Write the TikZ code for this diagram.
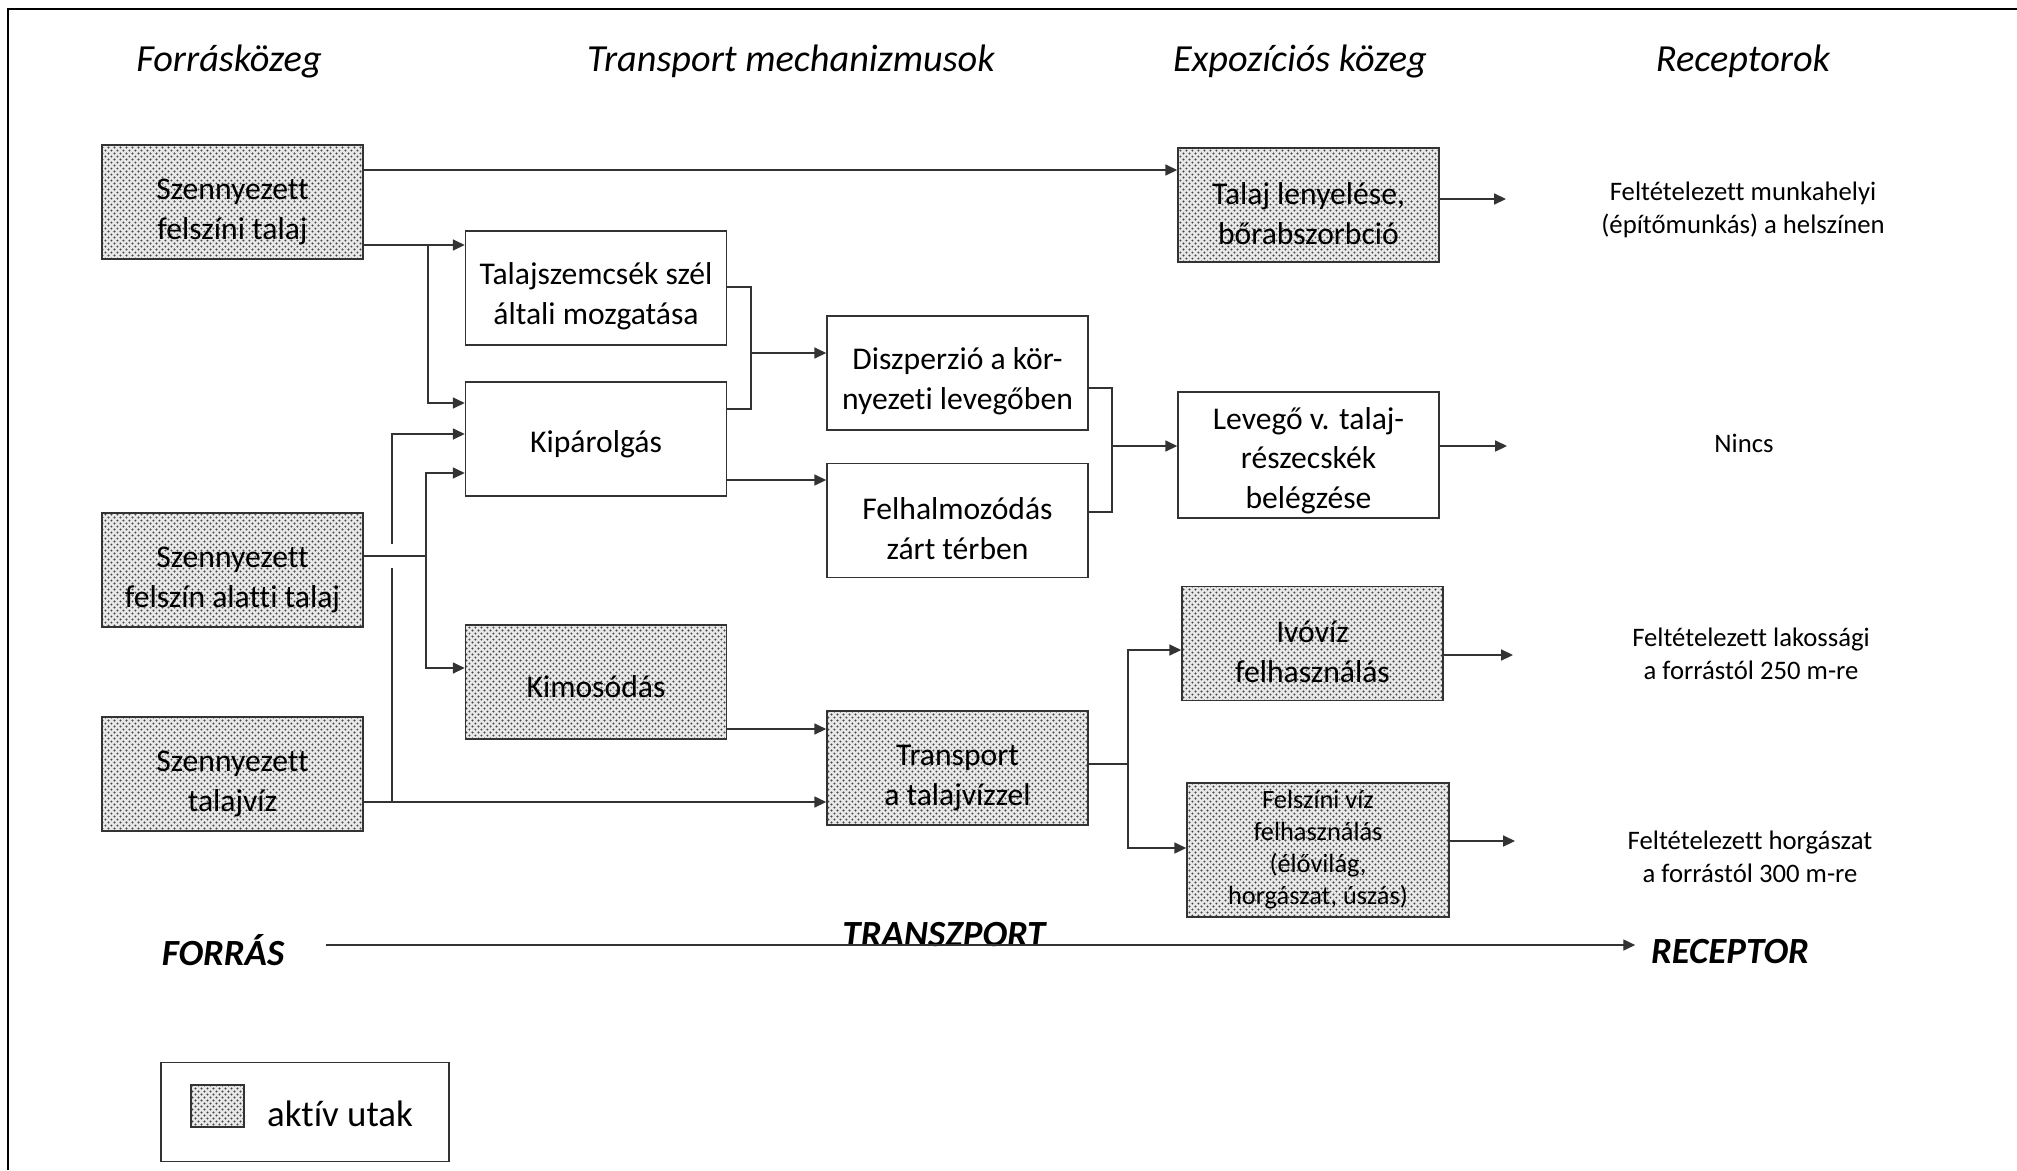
\documentclass[tikz,border=0pt]{standalone}
\usepackage{fontspec}
\setmainfont{Carlito}[Ligatures=NoCommon]
\usetikzlibrary{arrows.meta, patterns}
\definecolor{vonalszin}{HTML}{333333}
\definecolor{pontszin}{HTML}{444444}
\definecolor{alapszin}{HTML}{E8E8E8}
\pgfdeclarepatternformonly{pontok}{\pgfqpoint{0pt}{0pt}}{\pgfqpoint{3.4pt}{3.4pt}}{\pgfqpoint{3.4pt}{3.4pt}}{%
  \pgfpathcircle{\pgfqpoint{0.85pt}{0.85pt}}{0.6pt}%
  \pgfpathcircle{\pgfqpoint{2.55pt}{2.55pt}}{0.6pt}%
  \pgfusepath{fill}}
% elso sor magassaga (a szoveg lejjebb kerul)
\newcommand{\elso}[1][22pt]{\rule{0pt}{#1}}
\tikzset{
  doboz/.style={draw=vonalszin, line width=0.9pt, minimum width=5.22cm, minimum height=2.28cm,
                inner sep=2pt, align=center, font=\fontsize{18}{22.7}\selectfont},
  mintazat/.style={preaction={fill=alapszin}, pattern=pontok, pattern color=pontszin},
  aktiv/.style={doboz, mintazat},
  nyil/.style={-{Triangle[length=6.8pt,width=6.3pt]}, line width=0.8pt, vonalszin},
  vonal/.style={line width=0.8pt, vonalszin},
  fejlec/.style={font=\fontsize{21.8}{26}\selectfont\itshape},
  cimke/.style={font=\fontsize{21}{25}\selectfont\bfseries\itshape},
  receptor/.style={align=center, font=\fontsize{15.2}{19}\selectfont},
}

\begin{document}
\begin{tikzpicture}[x=0.02cm, y=-0.02cm]
  \useasboundingbox (0,0) rectangle (2017,1170);
  \draw[line width=1pt] (8,1170) -- (8,9) -- (2017,9);

  % oszlopcimek
  \node[fejlec] (h1) at (229,61) {Forrásközeg};
  \node[fejlec] (h2) at (791,61) {Transport mechanizmusok};
  \node[fejlec] (h3) at (1300,61) {Expozíciós közeg};
  \node[fejlec] (h4) at (1743,61) {Receptorok};

  % forrasok
  \node[aktiv] (A1) at (232.5,202) {\elso[23pt]Szennyezett\\felszíni talaj};
  \node[aktiv] (A2) at (232.5,570) {\elso[23pt]Szennyezett\\felszín alatti talaj};
  \node[aktiv] (A3) at (232.5,774) {\elso[23pt]Szennyezett\\talajvíz};
  % mechanizmusok
  \node[doboz] (B1) at (596,288) {\elso Talajszemcsék szél\\általi mozgatása};
  \node[doboz] (B2) at (596,439) {\elso[18pt]Kipárolgás};
  \node[aktiv] (B3) at (596,682) {\elso[18pt]Kimosódás};
  \node[doboz] (C1) at (957.5,373) {\elso Diszperzió a kör-\\nyezeti levegőben};
  \node[doboz] (C2) at (957.5,520.5) {\elso Felhalmozódás\\zárt térben};
  \node[aktiv] (C3) at (957.5,768) {\elso[23pt]Transport\\a talajvízzel};
  % expozicio
  \node[aktiv] (D1) at (1308.5,205) {\elso Talaj lenyelése,\\bőrabszorbció};
  \node[doboz, minimum height=2.48cm] (D2) at (1308.5,455) {\elso[19pt]Levegő v. talaj-\\részecskék\\belégzése};
  \node[aktiv] (D3) at (1312.5,643.5) {\elso Ivóvíz\\felhasználás};
  \node[aktiv, minimum width=5.24cm, minimum height=2.68cm, inner sep=1pt,
        font=\fontsize{15}{18.2}\selectfont] (D4) at (1318,850) {Felszíni víz\\felhasználás\\(élővilág,\\horgászat, úszás)};
  % receptorok
  \node[receptor] (R1) at (1743,210) {Feltételezett munkahelyi\\(építőmunkás) a helszínen};
  \node[receptor] (R2) at (1744,443) {Nincs};
  \node[receptor] (R3) at (1751,654) {Feltételezett lakossági\\a forrástól 250 m-re};
  \node[receptor] (R4) at (1750,857) {Feltételezett horgászat\\a forrástól 300 m-re};

  % elagazasok
  \coordinate (e1) at (400,170);
  \coordinate (s1) at (428,245);
  \coordinate (s1b) at (428,403);
  \coordinate (s2) at (426,556);
  \coordinate (s2a) at (426,473);
  \coordinate (s2b) at (426,668);
  \coordinate (s3) at (392,802);
  \coordinate (s3a) at (392,434);
  \coordinate (t1) at (780,480);
  \coordinate (t2) at (780,729);
  \coordinate (k1) at (751,287);
  \coordinate (k2) at (751,409);
  \coordinate (k) at (751,353);
  \coordinate (m1) at (1112,388);
  \coordinate (m2) at (1112,512);
  \coordinate (m) at (1112,446);
  \coordinate (v) at (1128,764);
  \coordinate (v1) at (1128,650);
  \coordinate (v2) at (1128,848);
  \coordinate (r1) at (1506,199);
  \coordinate (r2) at (1507,446);
  \coordinate (r3) at (1513,655);
  \coordinate (r4) at (1515,841);

  % nyilak
  \draw[nyil] (A1.east |- e1) -- (D1.west |- e1);
  \draw[nyil] (A1.east |- s1) -- (s1) -- (B1.west |- s1);
  \draw[nyil] (s1) -- (s1b) -- (B2.west |- s1b);
  \draw[nyil] (s3) -- (s3a) -- (B2.west |- s3a);
  \draw[white, line width=4pt] ([yshift=7]s3 |- s2) -- ([yshift=-7]s3 |- s2);
  \draw[vonal] (A2.east |- s2) -- (s2);
  \draw[nyil] (s2) -- (s2a) -- (B2.west |- s2a);
  \draw[nyil] (s2) -- (s2b) -- (B3.west |- s2b);
  \draw[nyil] (A3.east |- s3) -- (C3.west |- s3);
  \draw[nyil] (B2.east |- t1) -- (C2.west |- t1);
  \draw[nyil] (B3.east |- t2) -- (C3.west |- t2);
  \draw[vonal] (B1.east |- k1) -- (k1) -- (k2) -- (B2.east |- k2);
  \draw[nyil] (k) -- (C1.west |- k);
  \draw[vonal] (C1.east |- m1) -- (m1) -- (m2) -- (C2.east |- m2);
  \draw[nyil] (m) -- (D2.west |- m);
  \draw[vonal] (C3.east |- v) -- (v);
  \draw[nyil] (v) -- (v1) -- (D3.west |- v1);
  \draw[nyil] (v) -- (v2) -- (D4.west |- v2);
  \draw[nyil] (D1.east |- r1) -- (r1);
  \draw[nyil] (D2.east |- r2) -- (r2);
  \draw[nyil] (D3.east |- r3) -- (r3);
  \draw[nyil] (D4.east |- r4) -- (r4);

  % also tengely
  \coordinate (ax) at (900,945);
  \node[cimke] (forras) at (223,950) {FORRÁS};
  \node[cimke] (transzport) at (944,935) {TRANSZPORT};
  \node[cimke] (rec) at (1730,952) {RECEPTOR};
  \draw[nyil, shorten <=20pt, shorten >=5.5pt] (forras.east |- ax) -- (rec.west |- ax);

  % jelmagyarazat
  \node[draw=vonalszin, line width=0.9pt, minimum width=5.76cm, minimum height=1.98cm] (jelm) at (305,1112) {};
  \node[draw=vonalszin, line width=0.9pt, mintazat, minimum width=1.06cm, minimum height=0.84cm] (minta) at (217.5,1106) {};
  \node[font=\fontsize{21}{25}\selectfont] (jelmtxt) at (340,1114) {aktív utak};
\end{tikzpicture}
\end{document}
